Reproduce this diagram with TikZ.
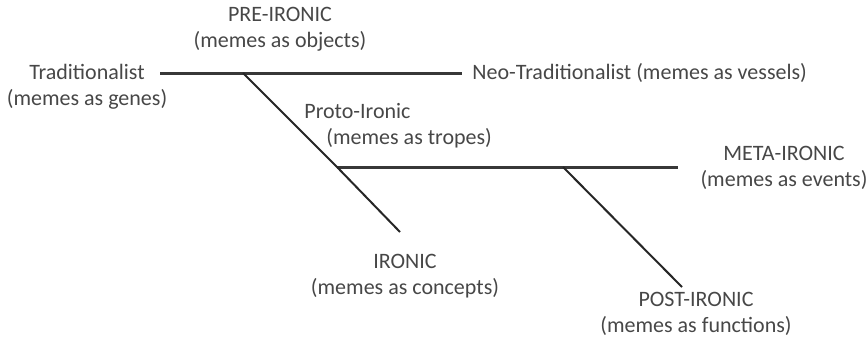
\documentclass[tikz,border=0pt]{standalone}
\usepackage{fontspec}
\setmainfont{Carlito}

\begin{document}
\begin{tikzpicture}[x=0.5pt,y=-0.5pt]
               \tikzset{era/.style={align=center,text=black!72,font=\fontsize{11pt}{13pt}\selectfont,inner sep=0pt},
                        mainline/.style={line width=1.5pt,black!78},
                        branch/.style={line width=1pt,black!85}}
               \useasboundingbox (0,0) rectangle (866,337);
               % line ends and junctions
               \coordinate (tradend) at (160,73);
               \coordinate (prejoin) at (243,73);
               \coordinate (neoend) at (462,73);
               \coordinate (protojoin) at (337,167);
               \coordinate (postjoin) at (563,167);
               \coordinate (metaend) at (678,167);
               \coordinate (ironicend) at (400,232);
               \coordinate (postend) at (682,287);
               % top line
               \draw [mainline] (tradend) -- (neoend);
               % middle line
               \draw [mainline] (protojoin) -- (metaend);
               % branches down
               \draw [branch] (prejoin) -- (protojoin) -- (ironicend);
               \draw [branch] (postjoin) -- (postend);
               % labels
               \node [era] (preironic) at (280,29) {PRE-IRONIC\\(memes as objects)};
               \node [era] (traditionalist) at (87,87) {Traditionalist\\(memes as genes)};
               \node [era,anchor=west] (neotraditionalist) at (472,73) {Neo-Traditionalist (memes as vessels)};
               \node [era,align=left,anchor=west] (protoironic) at (304,126) {Proto-Ironic\\\hspace*{11pt}(memes as tropes)};
               \node [era] (metaironic) at (784,168) {META-IRONIC\\(memes as events)};
               \node [era] (ironic) at (405,276) {IRONIC\\(memes as concepts)};
               \node [era] (postironic) at (696,314) {POST-IRONIC\\(memes as functions)};
            \end{tikzpicture}
\end{document}
